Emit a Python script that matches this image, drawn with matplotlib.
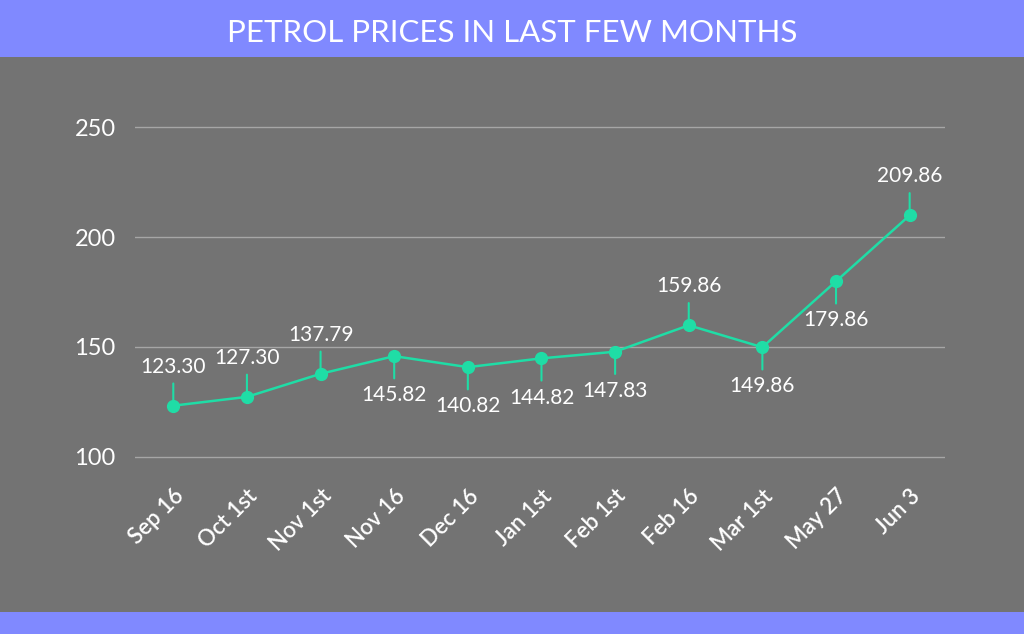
import matplotlib
matplotlib.use("Agg")
import matplotlib.pyplot as plt
from matplotlib.patches import Rectangle

dates = ["Sep 16", "Oct 1st", "Nov 1st", "Nov 16", "Dec 16", "Jan 1st",
         "Feb 1st", "Feb 16", "Mar 1st", "May 27", "Jun 3"]
prices = [123.30, 127.30, 137.79, 145.82, 140.82, 144.82,
          147.83, 159.86, 149.86, 179.86, 209.86]
# label above (1) or below (-1) the point
label_side = [1, 1, 1, -1, -1, -1, -1, 1, -1, -1, 1]
yticks = [100, 150, 200, 250]

GREY = "#737373"
BANNER = "#8089FF"
TEAL = "#1FDDA6"

plt.rcParams['font.family'] = ['Lato', 'DejaVu Sans']

W, H = 1024, 634
fig = plt.figure(figsize=(W / 100, H / 100), dpi=100, facecolor=GREY)

# bands top and bottom
fig.patches.append(Rectangle((0, 1 - 57 / H), 1, 57 / H, transform=fig.transFigure,
                             facecolor=BANNER, edgecolor="none", zorder=0))
fig.patches.append(Rectangle((0, 0), 1, 22 / H, transform=fig.transFigure,
                             facecolor=BANNER, edgecolor="none", zorder=0))
fig.text(0.5, 1 - 33 / H, "PETROL PRICES IN LAST FEW MONTHS", color="white",
         fontsize=22.5, ha="center", va="center")

# axes in pixel terms: left 135, right 945, top 100, bottom 480
ax = fig.add_axes([135 / W, 1 - 480 / H, 810 / W, 380 / H])
ax.set_facecolor(GREY)
for s in ax.spines.values():
    s.set_visible(False)

x = list(range(len(dates)))
ax.plot(x, prices, color=TEAL, lw=1.8, marker="o", markersize=8.5, zorder=3)

for xi, v, side in zip(x, prices, label_side):
    ax.annotate(f"{v:.2f}", xy=(xi, v), xytext=(0, 21 * side), textcoords="offset points",
                ha="center", va="bottom" if side > 0 else "top",
                color="white", fontsize=15,
                arrowprops=dict(arrowstyle="-", color=TEAL, lw=1.5, shrinkA=3, shrinkB=0))

ax.set_xlim(-0.52, 10.48)
ax.set_ylim(89.5, 262.3)
ax.set_yticks(yticks)
ax.set_yticklabels([str(t) for t in yticks], fontsize=17, color="white")
ax.set_xticks(x)
ax.set_xticklabels(dates, rotation=45, ha="right", rotation_mode="anchor",
                   fontsize=16, color="white", fontweight="semibold")
ax.tick_params(length=0)
ax.tick_params(axis="y", pad=14)
ax.tick_params(axis="x", pad=4)
ax.grid(axis="y", color="#A6A6A6", lw=1)
ax.set_axisbelow(True)

fig.savefig("out.png", dpi=100, facecolor=GREY)
